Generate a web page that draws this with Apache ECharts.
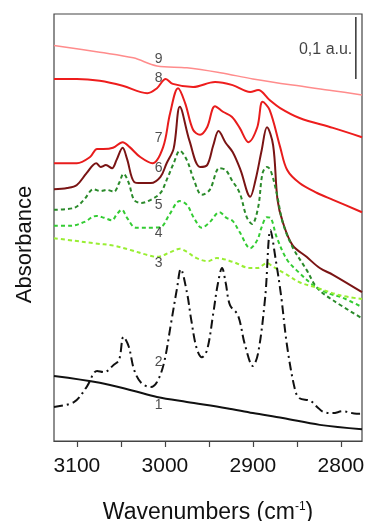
<!DOCTYPE html>
<html>
<head>
<meta charset="utf-8">
<script src="https://cdn.jsdelivr.net/npm/echarts@6/dist/echarts.min.js"></script>
<style>
html,body{margin:0;padding:0;background:#fff;}
#chart{width:367px;height:521px;}
</style>
</head>
<body>
<div id="chart"></div>
<script>
// Wavenumbers (cm-1) and absorbance values (a.u.)
const wn9 = [3126, 3074, 3036, 3009, 2975, 2937, 2900, 2855, 2809, 2776];
const s9  = [0.638, 0.627, 0.618, 0.605, 0.602, 0.594, 0.584, 0.574, 0.565, 0.558];

const wn8 = [3126, 3100, 3074, 3048, 3020, 3009, 2999, 2991, 2968, 2943, 2923, 2903, 2894, 2881, 2869, 2847, 2809, 2776];
const s8  = [0.584, 0.584, 0.581, 0.573, 0.561, 0.569, 0.584, 0.576, 0.571, 0.579, 0.574, 0.563, 0.566, 0.550, 0.537, 0.521, 0.505, 0.490];

const wn7 = [3126, 3100, 3085, 3077, 3070, 3059, 3048, 3040, 3028, 3014, 3002, 2994, 2985, 2977, 2968, 2960, 2952, 2943, 2934, 2924, 2915, 2905, 2895, 2889, 2881, 2869, 2861, 2847, 2827, 2809, 2776];
const s7  = [0.448, 0.448, 0.458, 0.471, 0.471, 0.473, 0.482, 0.474, 0.458, 0.448, 0.474, 0.529, 0.569, 0.545, 0.502, 0.494, 0.506, 0.540, 0.531, 0.523, 0.505, 0.482, 0.506, 0.547, 0.534, 0.474, 0.437, 0.416, 0.400, 0.389, 0.369];

const wn6 = [3126, 3111, 3100, 3089, 3078, 3073, 3067, 3060, 3055, 3048, 3043, 3035, 3027, 3016, 3005, 2998, 2990, 2983, 2972, 2960, 2952, 2945, 2939, 2931, 2923, 2914, 2903, 2897, 2890, 2884, 2877, 2872, 2866, 2855, 2839, 2824, 2809, 2776];
const s6  = [0.406, 0.408, 0.413, 0.432, 0.448, 0.442, 0.445, 0.440, 0.453, 0.473, 0.455, 0.418, 0.416, 0.416, 0.426, 0.448, 0.472, 0.539, 0.484, 0.442, 0.445, 0.477, 0.500, 0.481, 0.466, 0.437, 0.394, 0.421, 0.469, 0.506, 0.477, 0.389, 0.353, 0.316, 0.297, 0.279, 0.268, 0.240];

const wn5 = [3126, 3103, 3092, 3081, 3073, 3066, 3058, 3052, 3047, 3041, 3035, 3027, 3016, 3005, 2998, 2990, 2983, 2975, 2967, 2958, 2949, 2938, 2931, 2924, 2915, 2907, 2901, 2894, 2889, 2884, 2880, 2873, 2866, 2855, 2839, 2827, 2809, 2776];
const s5  = [0.373, 0.376, 0.389, 0.406, 0.403, 0.405, 0.402, 0.416, 0.431, 0.416, 0.389, 0.384, 0.389, 0.400, 0.421, 0.448, 0.468, 0.453, 0.421, 0.397, 0.405, 0.440, 0.437, 0.421, 0.400, 0.361, 0.350, 0.377, 0.432, 0.442, 0.437, 0.400, 0.352, 0.313, 0.276, 0.247, 0.227, 0.198];

const wn4 = [3126, 3107, 3092, 3078, 3069, 3060, 3055, 3049, 3043, 3033, 3020, 3005, 2995, 2983, 2975, 2967, 2958, 2949, 2938, 2930, 2923, 2915, 2903, 2895, 2890, 2884, 2880, 2873, 2861, 2847, 2832, 2816, 2798, 2776];
const s4  = [0.347, 0.347, 0.353, 0.363, 0.360, 0.356, 0.365, 0.373, 0.360, 0.344, 0.344, 0.345, 0.365, 0.387, 0.381, 0.360, 0.344, 0.353, 0.369, 0.360, 0.355, 0.337, 0.311, 0.324, 0.345, 0.361, 0.360, 0.329, 0.292, 0.271, 0.252, 0.239, 0.231, 0.216];

const wn3 = [3126, 3103, 3081, 3058, 3039, 3020, 3009, 2993, 2983, 2975, 2964, 2951, 2941, 2923, 2903, 2895, 2884, 2877, 2861, 2847, 2827, 2801, 2776];
const s3  = [0.327, 0.323, 0.319, 0.315, 0.308, 0.300, 0.297, 0.305, 0.310, 0.305, 0.295, 0.290, 0.295, 0.289, 0.279, 0.279, 0.287, 0.281, 0.268, 0.256, 0.247, 0.235, 0.229];

const wn2 = [3126, 3103, 3089, 3077, 3069, 3058, 3052, 3047, 3041, 3035, 3027, 3016, 3009, 3001, 2993, 2986, 2982, 2975, 2970, 2964, 2958, 2952, 2945, 2940, 2935, 2931, 2926, 2917, 2909, 2900, 2894, 2886, 2880, 2874, 2868, 2861, 2852, 2847, 2835, 2827, 2820, 2809, 2798, 2782, 2776];
const s2  = [0.055, 0.063, 0.087, 0.113, 0.111, 0.123, 0.131, 0.168, 0.152, 0.115, 0.094, 0.087, 0.095, 0.126, 0.190, 0.248, 0.277, 0.240, 0.195, 0.150, 0.135, 0.147, 0.206, 0.252, 0.279, 0.256, 0.219, 0.203, 0.155, 0.121, 0.142, 0.232, 0.340, 0.292, 0.235, 0.152, 0.082, 0.069, 0.065, 0.055, 0.047, 0.045, 0.048, 0.044, 0.044];

const wn1 = [3126, 3074, 3036, 3009, 2975, 2930, 2900, 2866, 2824, 2776];
const s1  = [0.105, 0.094, 0.081, 0.071, 0.063, 0.053, 0.045, 0.037, 0.026, 0.019];

// curve number labels: [wavenumber, value, text]
const curveLabels = [
  [3007, 0.616, '9'], [3007, 0.585, '8'], [3007, 0.489, '7'], [3007, 0.440, '6'],
  [3007, 0.381, '5'], [3007, 0.335, '4'], [3007, 0.287, '3'], [3007, 0.127, '2'], [3007, 0.058, '1']
];
const tickValues = [3100, 3050, 3000, 2950, 2900, 2850, 2800];
const labelValues = [3100, 3000, 2900, 2800];
const scaleBarWn = 2783, scaleBarLow = 0.584, scaleBarHigh = 0.684;
const scaleText = '0,1 a.u.';

const pairs = (xs, ys) => xs.map((x, i) => [x, ys[i]]);

const curves = [
  {x: wn9, y: s9, color: '#ff8c8c', type: 'solid', w: 1.5},
  {x: wn8, y: s8, color: '#ee1d1d', type: 'solid', w: 2},
  {x: wn7, y: s7, color: '#e81c1c', type: 'solid', w: 2},
  {x: wn6, y: s6, color: '#7a1414', type: 'solid', w: 2},
  {x: wn5, y: s5, color: '#2a8a2a', type: [4, 3], w: 2},
  {x: wn4, y: s4, color: '#33cc33', type: [4, 3], w: 2},
  {x: wn3, y: s3, color: '#99ee33', type: [4, 3], w: 2},
  {x: wn2, y: s2, color: '#111111', type: [9, 4, 2, 4], w: 2},
  {x: wn1, y: s1, color: '#111111', type: 'solid', w: 2}
];

const series = curves.map(c => ({
  type: 'line',
  data: pairs(c.x, c.y),
  showSymbol: false,
  smooth: 0.35,
  lineStyle: {color: c.color, width: c.w, type: c.type},
  z: 2
}));

series.push({
  type: 'line',
  data: [[scaleBarWn, scaleBarLow], [scaleBarWn, scaleBarHigh]],
  showSymbol: false,
  lineStyle: {color: '#333', width: 1.5},
  z: 3
});
series.push({
  type: 'scatter',
  symbolSize: 0,
  data: [[2787, 0.631, scaleText]],
  label: {show: true, position: 'left', distance: 0, formatter: p => p.data[2],
    fontFamily: 'Liberation Sans, Arial, sans-serif', fontSize: 16, color: '#111'},
  z: 4
});
series.push({
  type: 'scatter',
  symbolSize: 0,
  data: curveLabels,
  label: {show: true, position: 'inside', formatter: p => p.data[2],
    fontFamily: 'Liberation Sans, Arial, sans-serif', fontSize: 14, color: '#222'},
  z: 4
});

const chart = echarts.init(document.getElementById('chart'), null, {renderer: 'canvas'});
chart.setOption({
  animation: false,
  backgroundColor: '#fff',
  grid: {left: 54, right: 5, top: 14, bottom: 80, containLabel: false, outerBoundsMode: 'none',
    show: true, borderColor: '#444', borderWidth: 1.2, backgroundColor: 'transparent'},
  xAxis: {
    type: 'value', inverse: true, min: 2776, max: 3126,
    axisLine: {show: true, lineStyle: {color: '#444', width: 1.2}},
    axisTick: {show: true, inside: false, length: 6, customValues: tickValues, lineStyle: {color: '#444', width: 1.2}},
    axisLabel: {show: true, customValues: labelValues, formatter: v => String(v),
      fontFamily: 'Liberation Sans, Arial, sans-serif', fontSize: 21, color: '#111', margin: 15},
    splitLine: {show: false},
    name: 'Wavenumbers (cm{sup|-1})',
    nameLocation: 'middle', nameGap: 60,
    nameTextStyle: {fontFamily: 'Liberation Sans, Arial, sans-serif', fontSize: 23, color: '#111',
      rich: {sup: {fontSize: 12, verticalAlign: 'top', padding: [0, 0, 12, 0], fontFamily: 'Liberation Sans, Arial, sans-serif', color: '#111'}}}
  },
  yAxis: {
    type: 'value', min: 0, max: 0.6887,
    axisLine: {show: false}, axisTick: {show: false}, axisLabel: {show: false}, splitLine: {show: false},
    name: 'Absorbance', nameLocation: 'middle', nameGap: 18, nameRotate: 90,
    nameTextStyle: {fontFamily: 'Liberation Sans, Arial, sans-serif', fontSize: 22, color: '#111', padding: [0, 0, 0, -34]}
  },
  series: series
});
</script>
</body>
</html>
